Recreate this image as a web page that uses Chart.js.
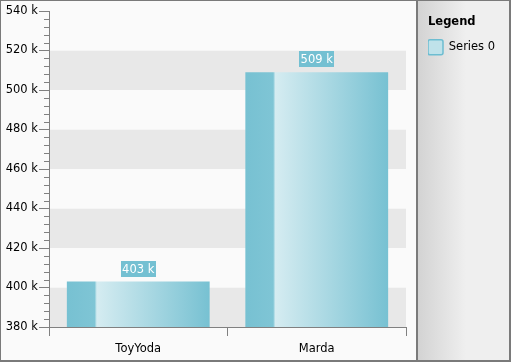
<!DOCTYPE html>
<html>
<head>
<meta charset="utf-8">
<script src="https://cdn.jsdelivr.net/npm/chart.js@4/dist/chart.umd.min.js"></script>
<style>
  body { margin: 0; background: #fff; }
</style>
</head>
<body>
<canvas id="barChart" width="511" height="362"></canvas>
<script>
// data
var categories = ['ToyYoda', 'Marda'];
var seriesName = 'Series 0';
var seriesValues = [403000, 509000];
var yMin = 380000, yMax = 540000, yStep = 20000, yMinorStep = 4000;

var FONT = 'DejaVu Sans';
var barColor = '#77c1d2';
var barLight = '#d5ecf1';

function kLabel(v) { return Math.round(v / 1000) + ' k'; }

// frame, bands and legend panel
var backdrop = {
    id: 'backdrop',
    beforeLayout: function(chart) {
        var lg = chart.legend;
        if (lg && !lg._patched) {
            var fit = lg.fit;
            lg.fit = function() { fit.call(this); this.width = 105; };
            lg._patched = true;
        }
    },
    afterLayout: function(chart) {
        chart.legend.left = chart.chartArea.right + 22;
    },
    beforeDraw: function(chart) {
        var c = chart.ctx, W = chart.width, H = chart.height;
        var px = chart.chartArea.right + 10;
        c.save();
        c.fillStyle = '#fafafa';
        c.fillRect(0, 0, W, H);
        // legend panel
        var g = c.createLinearGradient(px + 2, 0, px + 50, 0);
        g.addColorStop(0, '#d3d3d3');
        g.addColorStop(1, '#efefef');
        c.fillStyle = g;
        c.fillRect(px + 2, 0, W - px - 2, H);
        c.fillStyle = '#7a7a7a';
        c.fillRect(px, 0, 2, H);
        // outer frame
        c.fillRect(0, 0, W, 1);
        c.fillRect(0, 0, 1, H);
        c.fillRect(W - 2, 0, 2, H);
        c.fillRect(0, H - 2, W, 2);
        c.restore();
    },
    beforeDatasetsDraw: function(chart) {
        var c = chart.ctx, a = chart.chartArea, y = chart.scales.y;
        c.save();
        var i = 0;
        for (var v = yMin; v < yMax; v += yStep, i++) {
            var top = y.getPixelForValue(v + yStep), bot = y.getPixelForValue(v);
            c.fillStyle = (i % 2 === 0) ? '#e8e8e8' : '#fafafa';
            c.fillRect(a.left + 1, top, a.right - a.left - 1, bot - top);
        }
        // minor ticks
        c.strokeStyle = '#808080';
        c.lineWidth = 1;
        c.beginPath();
        for (var m = yMin; m <= yMax; m += yMinorStep) {
            if ((m - yMin) % yStep === 0) continue;
            var py = Math.round(y.getPixelForValue(m)) + 0.5;
            c.moveTo(a.left - 5, py);
            c.lineTo(a.left, py);
        }
        c.stroke();
        c.restore();
    },
    afterDatasetsDraw: function(chart) {
        var c = chart.ctx;
        var meta = chart.getDatasetMeta(0);
        c.save();
        c.font = '11.5px "' + FONT + '"';
        c.textAlign = 'center';
        c.textBaseline = 'middle';
        meta.data.forEach(function(el, i) {
            var txt = kLabel(seriesValues[i]);
            var w = c.measureText(txt).width + 3;
            var cy = el.y - 13;
            c.fillStyle = '#74c0d2';
            c.fillRect(Math.round(el.x - w / 2), Math.round(cy - 8), Math.round(w), 16);
            c.fillStyle = '#ffffff';
            c.fillText(txt, el.x, cy + 1);
        });
        c.restore();
    }
};

function barFill(ctx) {
    var chart = ctx.chart;
    if (ctx.type !== 'data' || !chart.chartArea || !chart.scales.x) return barColor;
    var xs = chart.scales.x;
    var w = (xs.right - xs.left) / categories.length * 0.8;
    var x0 = xs.getPixelForValue(ctx.dataIndex) - w / 2;
    var g = chart.ctx.createLinearGradient(x0, 0, x0 + w, 0);
    g.addColorStop(0, barColor);
    g.addColorStop(0.195, '#7fc5d5');
    g.addColorStop(0.2, '#9dd3df');
    g.addColorStop(0.21, barLight);
    g.addColorStop(1, barColor);
    return g;
}

var ctx = document.getElementById('barChart').getContext('2d');
var myChart = new Chart(ctx, {
    type: 'bar',
    data: {
        labels: categories,
        datasets: [{
            label: seriesName,
            data: seriesValues,
            backgroundColor: barFill,
            borderWidth: 0,
            barPercentage: 0.8,
            categoryPercentage: 1.0
        }]
    },
    options: {
        responsive: false,
        animation: false,
        devicePixelRatio: 1,
        layout: { padding: { top: 11, left: 0, right: 0, bottom: 0 } },
        scales: {
            x: {
                afterFit: function(s) { s.height = 35; },
                border: { color: '#808080', width: 1 },
                grid: {
                    offset: true,
                    drawOnChartArea: false,
                    tickLength: 9,
                    tickColor: function(c) { return c.index === categories.length ? 'rgba(0,0,0,0)' : '#808080'; }
                },
                ticks: { color: '#000', padding: 6, font: { family: FONT, size: 11.5 } }
            },
            y: {
                min: yMin,
                max: yMax,
                afterFit: function(s) { s.width = 49; },
                border: { color: '#808080', width: 1 },
                grid: { drawOnChartArea: false, tickLength: 10, tickColor: '#808080' },
                ticks: {
                    stepSize: yStep,
                    padding: 1,
                    color: '#000',
                    font: { family: FONT, size: 11.5 },
                    callback: function(v) { return kLabel(v); }
                }
            }
        },
        plugins: {
            tooltip: { enabled: false },
            legend: {
                position: 'right',
                align: 'start',
                title: {
                    display: true,
                    text: 'Legend',
                    position: 'start',
                    color: '#000',
                    padding: { top: 5, bottom: 10 },
                    font: { family: FONT, size: 11.5, weight: 'bold' }
                },
                labels: {
                    padding: 0,
                    boxWidth: 15,
                    boxHeight: 15,
                    color: '#000',
                    font: { family: FONT, size: 11.5 },
                    generateLabels: function(chart) {
                        return chart.data.datasets.map(function(ds, i) {
                            return {
                                text: ds.label,
                                fillStyle: '#bfe2ea',
                                strokeStyle: '#6dbdd1',
                                lineWidth: 1.5,
                                borderRadius: 2,
                                datasetIndex: i,
                                hidden: false
                            };
                        });
                    }
                }
            }
        }
    },
    plugins: [backdrop]
});
</script>
</body>
</html>
